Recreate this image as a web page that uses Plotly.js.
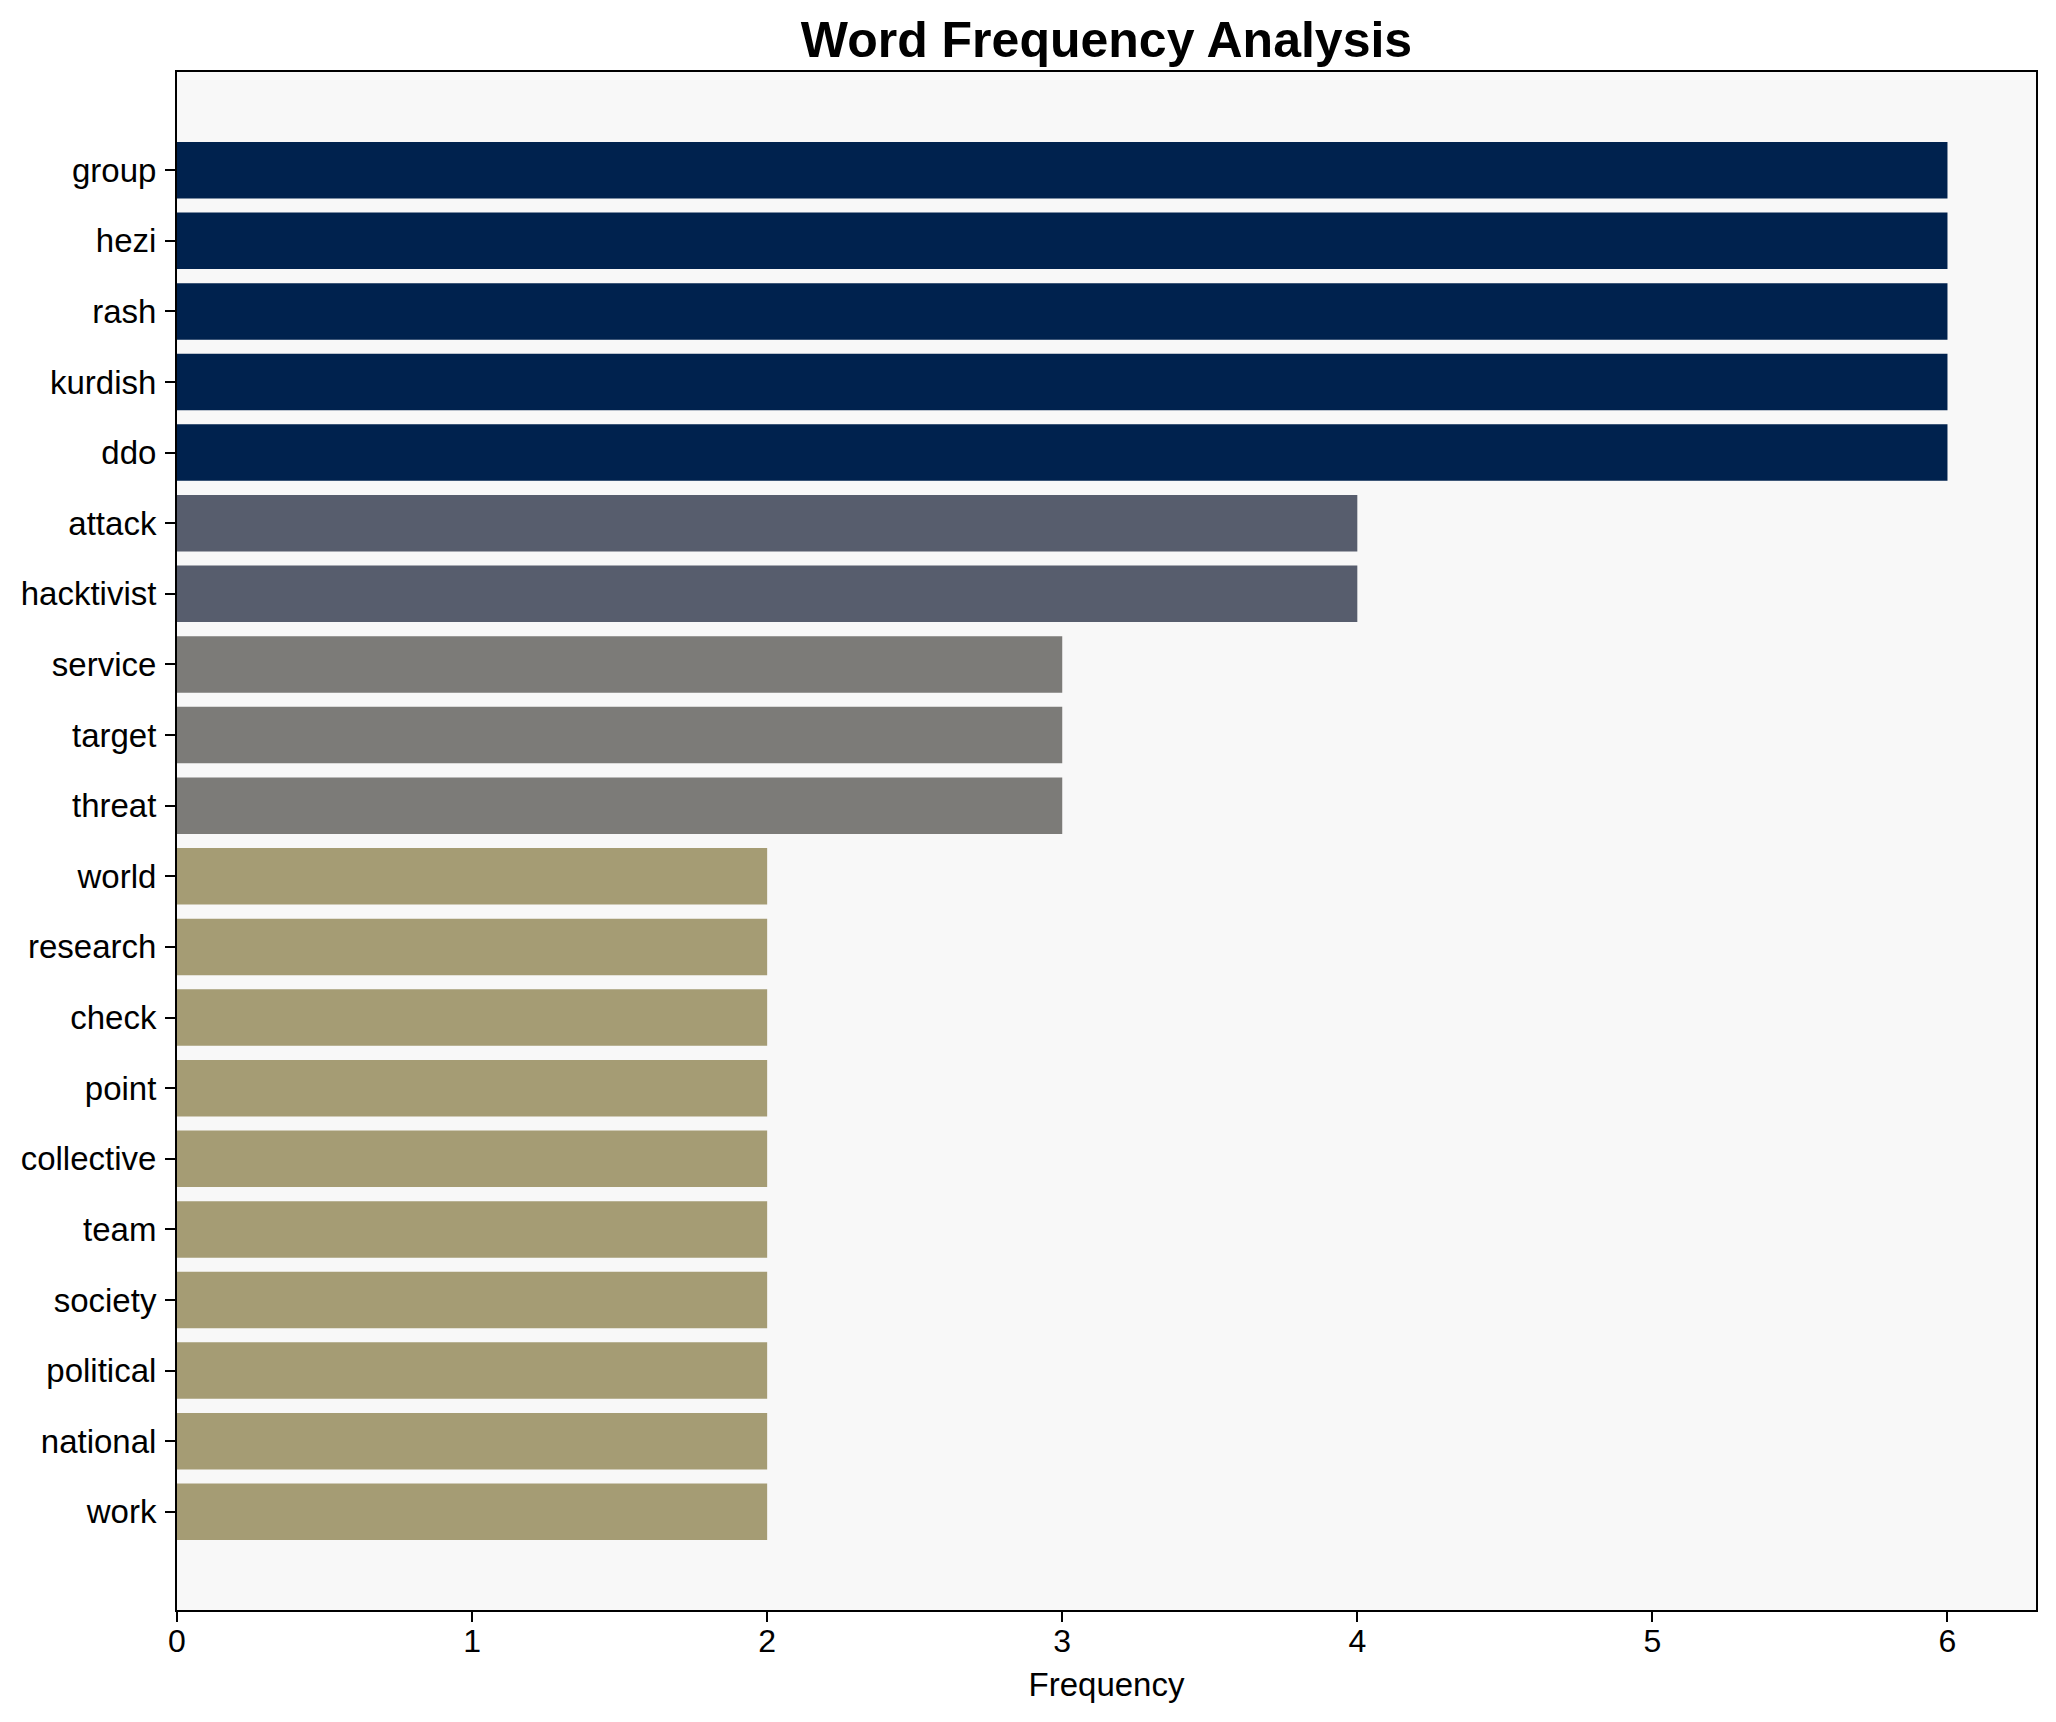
<!DOCTYPE html>
<html>
<head>
<meta charset="utf-8">
<script src="https://cdn.plot.ly/plotly-3.0.1.min.js"></script>
<style>html,body{margin:0;padding:0;background:#fff;}#chart{width:2056px;height:1722px;}</style>
</head>
<body>
<div id="chart"></div>
<script>
const words = ["group","hezi","rash","kurdish","ddo","attack","hacktivist","service","target","threat","world","research","check","point","collective","team","society","political","national","work"];
const frequencies = [6,6,6,6,6,4,4,3,3,3,2,2,2,2,2,2,2,2,2,2];
const xTicks = [0,1,2,3,4,5,6];
const colorByValue = {6:"#00224e", 4:"#575d6d", 3:"#7c7b78", 2:"#a59c74"};

const trace = {
  type: "bar",
  orientation: "h",
  x: frequencies,
  y: words,
  marker: {color: frequencies.map(v => colorByValue[v]), line: {width: 0}},
  hoverinfo: "x+y"
};

const font = "Liberation Sans, Arial, sans-serif";
const n = words.length;
const layout = {
  width: 2056,
  height: 1722,
  margin: {l: 177, r: 20, t: 72, b: 112, pad: 0},
  paper_bgcolor: "#ffffff",
  plot_bgcolor: "#f8f8f8",
  bargap: 0.2,
  showlegend: false,
  font: {family: font, color: "#000"},
  title: {
    text: "<b>Word Frequency Analysis</b>",
    font: {family: font, size: 50, color: "#000"},
    x: 0.5, xref: "paper", xanchor: "center",
    y: 1 - 39/1722, yref: "container", yanchor: "middle"
  },
  xaxis: {
    range: [0, 6.3],
    tickvals: xTicks,
    ticktext: xTicks.map(String),
    ticks: "outside", ticklen: 10, tickwidth: 2, tickcolor: "#000",
    tickfont: {family: font, size: 32, color: "#000"},
    showline: true, mirror: true, linecolor: "#000", linewidth: 2,
    showgrid: false, zeroline: false,
    ticklabelstandoff: -8,
    title: {text: "Frequency", font: {family: font, size: 33, color: "#000"}, standoff: 14}
  },
  yaxis: {
    type: "category",
    range: [n - 1 + 1.39, -1.39],
    ticks: "outside", ticklen: 10, tickwidth: 2, tickcolor: "#000",
    tickfont: {family: font, size: 33, color: "#000"},
    showline: true, mirror: true, linecolor: "#000", linewidth: 2,
    showgrid: false, zeroline: false,
    ticklabelstandoff: 2
  }
};

Plotly.newPlot("chart", [trace], layout, {displayModeBar: false, staticPlot: true});
</script>
</body>
</html>
